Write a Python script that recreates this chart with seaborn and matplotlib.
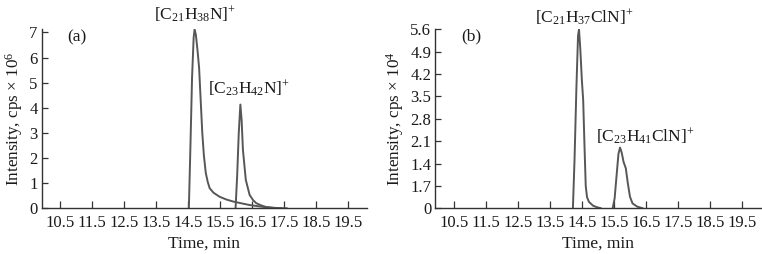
import matplotlib
matplotlib.use("Agg")
import matplotlib.pyplot as plt
import seaborn as sns

# trace data (time in min, intensity in axis units)
t_a1 = [14.53, 14.58, 14.63, 14.68, 14.71, 14.75, 14.80, 14.85, 14.90, 14.95, 15.00, 15.06,
        15.12, 15.18, 15.30, 15.49, 15.70, 15.91, 16.20, 16.43, 16.70, 16.95, 17.30, 17.60]
i_a1 = [0, 2.5, 5.2, 6.8, 7.13, 6.9, 6.3, 5.6, 4.3, 3.0, 2.1, 1.4,
        1.05, 0.8, 0.62, 0.46, 0.35, 0.27, 0.19, 0.13, 0.08, 0.04, 0.01, 0]
t_a2 = [15.99, 16.04, 16.09, 16.14, 16.18, 16.22, 16.31, 16.43, 16.54, 16.64, 16.80, 16.95, 17.20, 17.40]
i_a2 = [0, 1.3, 3.0, 4.13, 3.5, 2.33, 1.13, 0.53, 0.32, 0.2, 0.11, 0.05, 0.01, 0]

t_b1 = [14.22, 14.27, 14.33, 14.38, 14.41, 14.45, 14.50, 14.54, 14.58, 14.62, 14.66, 14.72,
        14.85, 14.98, 15.10]
i_b1 = [0, 1.5, 3.8, 5.4, 5.6, 5.0, 4.0, 3.4, 2.0, 0.7, 0.35, 0.2, 0.08, 0.03, 0]
t_b2 = [15.46, 15.52, 15.58, 15.64, 15.69, 15.74, 15.80, 15.87, 15.93, 16.00, 16.08, 16.23, 16.40]
i_b2 = [0, 0.3, 1.0, 1.7, 1.9, 1.75, 1.45, 1.25, 0.8, 0.36, 0.15, 0.05, 0]

x_ticks = [10.5, 11.5, 12.5, 13.5, 14.5, 15.5, 16.5, 17.5, 18.5, 19.5]
ya_ticks = [0, 1, 2, 3, 4, 5, 6, 7]
yb_ticks = [0, 0.7, 1.4, 2.1, 2.8, 3.5, 4.2, 4.9, 5.6]
yb_labels = ["0", "1.7", "1.4", "2.1", "2.8", "3.5", "4.2", "4.9", "5.6"]

sns.set_style("ticks")
plt.rcParams["font.family"] = ["Liberation Serif", "DejaVu Serif"]
plt.rcParams["mathtext.fontset"] = "custom"
plt.rcParams["mathtext.rm"] = "Liberation Serif"
plt.rcParams["mathtext.it"] = "Liberation Serif:italic"
plt.rcParams["mathtext.default"] = "rm"

line_col = "#575757"
txt_col = "#1a1a1a"

fig = plt.figure(figsize=(7.62, 2.54), dpi=100)
ax1 = fig.add_axes([0.0547, 0.180, 0.427, 0.707])
ax2 = fig.add_axes([0.5713, 0.180, 0.428, 0.707])


def style_axis(ax, yticks, ylabels, ylim):
    ax.set_xlim(9.93, 20.1)
    ax.set_ylim(*ylim)
    ax.set_xticks(x_ticks)
    ax.set_xticklabels([str(x) for x in x_ticks])
    ax.set_yticks(yticks)
    ax.set_yticklabels(ylabels)
    ax.tick_params(axis="x", direction="in", length=5, width=0.9, colors="#333333",
                   labelcolor=txt_col, labelsize=12, pad=5)
    ax.tick_params(axis="y", direction="in", length=4, width=0.9, colors="#333333",
                   labelcolor=txt_col, labelsize=12, pad=3)
    for s in ["top", "right"]:
        ax.spines[s].set_visible(False)
    for s in ["left", "bottom"]:
        ax.spines[s].set_color("#333333")
        ax.spines[s].set_linewidth(1.0)
    ax.set_xlabel("Time, min", fontsize=12.5, color=txt_col, labelpad=3)


sns.lineplot(x=t_a1, y=i_a1, ax=ax1, color=line_col, linewidth=1.4, sort=False, estimator=None)
sns.lineplot(x=t_a2, y=i_a2, ax=ax1, color=line_col, linewidth=1.4, sort=False, estimator=None)
style_axis(ax1, ya_ticks, [str(v) for v in ya_ticks], (0, 7.15))
ax1.set_ylabel("Intensity, cps × 10$^{6}$", fontsize=12.3, color=txt_col, labelpad=3)
ax1.text(0.108, 0.95, "(a)", transform=ax1.transAxes, ha="center", va="center",
         fontsize=12.5, color=txt_col)
ax1.text(14.72, 7.72, "[C$_{21}$H$_{38}$N]$^{+}$", ha="center", va="center",
         fontsize=12.5, color=txt_col, clip_on=False)
ax1.text(16.4, 4.75, "[C$_{23}$H$_{42}$N]$^{+}$", ha="center", va="center",
         fontsize=12.5, color=txt_col)

sns.lineplot(x=t_b1, y=i_b1, ax=ax2, color=line_col, linewidth=1.4, sort=False, estimator=None)
sns.lineplot(x=t_b2, y=i_b2, ax=ax2, color=line_col, linewidth=1.4, sort=False, estimator=None)
style_axis(ax2, yb_ticks, yb_labels, (0, 5.62))
ax2.set_ylabel("Intensity, cps × 10$^{4}$", fontsize=12.3, color=txt_col, labelpad=3)
ax2.text(0.109, 0.955, "(b)", transform=ax2.transAxes, ha="center", va="center",
         fontsize=12.5, color=txt_col)
ax2.text(14.58, 5.95, "[C$_{21}$H$_{37}$ClN]$^{+}$", ha="center", va="center",
         fontsize=12.5, color=txt_col, clip_on=False)
ax2.text(16.48, 2.24, "[C$_{23}$H$_{41}$ClN]$^{+}$", ha="center", va="center",
         fontsize=12.5, color=txt_col)

fig.savefig("out.png", dpi=100)
